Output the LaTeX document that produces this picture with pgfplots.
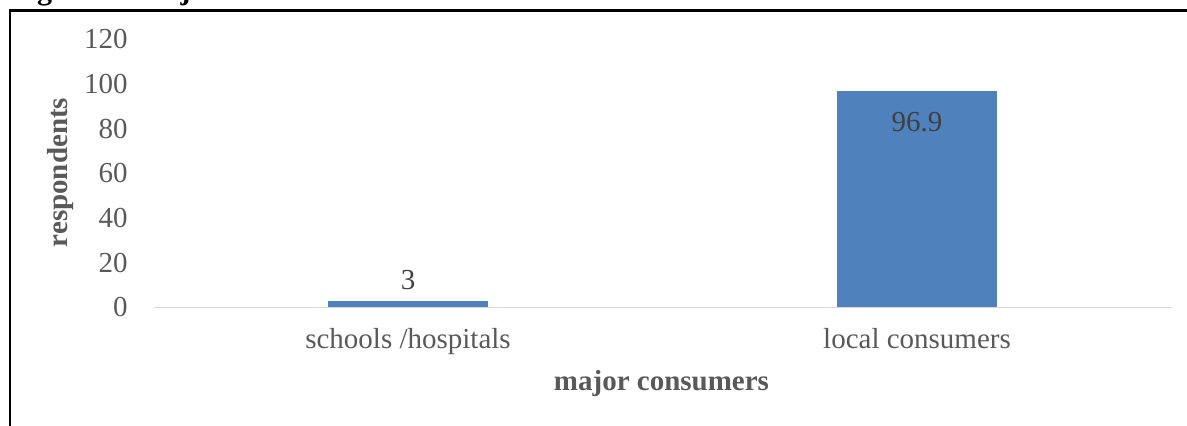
\documentclass[border=0pt]{standalone}
\usepackage{fontspec}
\setmainfont{Liberation Serif}
\usepackage{pgfplots}
\pgfplotsset{compat=1.18}

\definecolor{barblue}{HTML}{4F81BD}
\definecolor{labelgray}{HTML}{595959}
\definecolor{valuegray}{HTML}{404040}
\definecolor{baselinegray}{HTML}{D9D9D9}

\newcommand{\chartfont}{\fontsize{14.5}{17}\selectfont}

\begin{document}
\begin{tikzpicture}[x=0.5pt, y=-0.5pt]
  \useasboundingbox (0,0) rectangle (1187,426);

  % caption line of the surrounding page, cut by the frame
  \begin{scope}
    \clip (0,0) rectangle (1187,426);
    \node[anchor=base west, inner sep=0pt, font=\fontsize{15}{18}\selectfont\bfseries]
      at (10,-0.5) {Figure 9: Major consumers};
  \end{scope}

  % frame
  \draw[line width=1.1pt] (10.3,426) -- (10.3,10.5) -- (1187,10.5);

  % lower left corner of the plot area
  \coordinate (plotorigin) at (153.5,307.5);

  \begin{axis}[
    at={(plotorigin)}, anchor=south west,
    scale only axis, width=509pt, height=134pt,
    xmin=-0.5, xmax=1.5, ymin=0, ymax=120,
    xtick={0,1},
    xticklabels={schools /hospitals, local consumers},
    ytick={0,20,...,120},
    axis lines*=left,
    y axis line style={draw=none},
    x axis line style={draw=baselinegray, line width=0.75pt},
    major tick length=0pt,
    tick style={draw=none},
    /pgf/number format/assume math mode=true,
    yticklabel style={font=\chartfont, text=labelgray, anchor=east,
                      inner sep=0pt, xshift=-12.75pt},
    xticklabel style={font=\chartfont, text=labelgray, anchor=base,
                      inner sep=0pt, yshift=-20.75pt},
    ybar, bar width=80pt, bar shift=0pt,
    clip=false,
  ]
    % schools / hospitals: label above the bar
    \addplot[fill=barblue, draw=none,
      nodes near coords,
      every node near coord/.append style={font=\chartfont, text=valuegray,
        anchor=south, inner sep=0pt, yshift=5.4pt}]
      coordinates {(0,3)};
    % local consumers: label inside the top of the bar
    \addplot[fill=barblue, draw=none,
      nodes near coords,
      every node near coord/.append style={font=\chartfont, text=valuegray,
        anchor=north, inner sep=0pt, yshift=-10.5pt}]
      coordinates {(1,96.9)};
  \end{axis}

  % axis titles
  \node[rotate=90, anchor=base, inner sep=0pt, font=\chartfont\bfseries, text=labelgray]
    at (67.5,172.5) {respondents};
  \node[anchor=base, inner sep=0pt, font=\chartfont\bfseries, text=labelgray]
    at (661.5,390.5) {major consumers};
\end{tikzpicture}
\end{document}
